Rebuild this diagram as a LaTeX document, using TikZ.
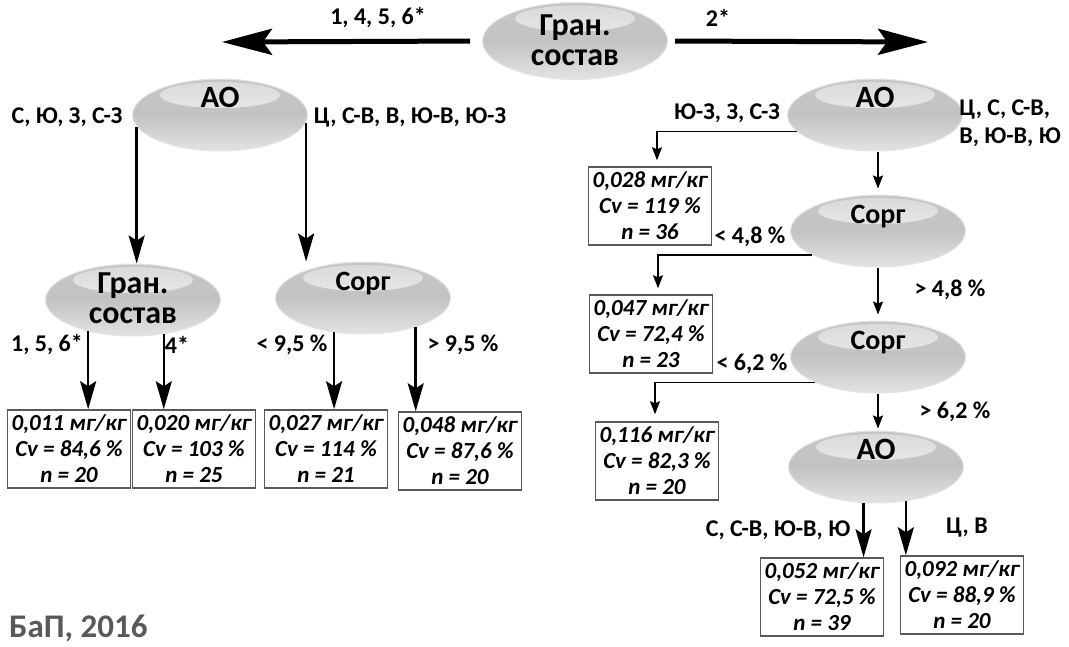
\documentclass[tikz,border=0pt]{standalone}
\usepackage{fontspec}
\setmainfont{Carlito}
\usetikzlibrary{shapes.geometric,arrows.meta,calc}

\tikzset{
  oval/.style={ellipse, minimum width=175pt, minimum height=72pt,
    draw=gray!20, line width=1pt,
    top color=gray!45, bottom color=gray!22, middle color=gray!47,
    path picture={\shade[top color=gray!30, bottom color=gray!4]
      ($(path picture bounding box.north)+(0,16)$) ellipse [x radius=60pt, y radius=13pt];}},
  ovaltext/.style={font=\bfseries\fontsize{28}{31}\selectfont, align=center, inner sep=0pt},
  aotext/.style={ovaltext, font=\bfseries\fontsize{31}{31}\selectfont},
  grantext/.style={ovaltext, font=\bfseries\fontsize{32}{30}\selectfont},
  res/.style={draw=gray!70!black, line width=1.5pt, fill=white,
    minimum width=123pt, minimum height=78pt, inner sep=1pt, align=center,
    font=\bfseries\itshape\fontsize{23}{26}\selectfont},
  lab/.style={font=\bfseries\fontsize{24}{28}\selectfont, inner sep=0pt},
  bigarr/.style={line width=5pt, -{Stealth[length=50pt, width=26pt, inset=9pt]}},
  arr/.style={line width=2.5pt, -{Stealth[length=28pt, width=16pt, inset=5pt]}},
  thinarr/.style={line width=1.5pt, -{Stealth[length=13pt, width=10pt, inset=2pt]}}
}

\begin{document}
\begin{tikzpicture}[x=1pt, y=-1pt]
\useasboundingbox (0,0) rectangle (1069,646);

% root
\node[oval, minimum width=185pt, minimum height=77pt,
  label={[grantext, yshift=1pt]center:Гран.\\состав}] (granT) at (575,41) {};
\coordinate (endL) at (222,42);
\coordinate (endR) at (928,42);
\draw[bigarr, shorten <=12pt] (granT.west) -- (endL);
\draw[bigarr, shorten <=7pt] (granT.east) -- (endR);
\node[lab] (lT1) at (378,18) {1, 4, 5, 6*};
\node[lab] (lT2) at (718,18) {2*};

% left branch
\node[oval, label={[aotext, yshift=18pt]center:АО}] (aoL) at (220,115) {};
\node[oval, label={[grantext, yshift=2pt]center:Гран.\\состав}] (granL) at (133,300) {};
\node[oval, label={[ovaltext, yshift=14pt]center:Сорг}] (sorgL) at (363,298) {};
\node[lab] (lA1) at (67,117) {С, Ю, З, С-З};
\node[lab] (lA2) at (410,117) {Ц, С-В, В, Ю-В, Ю-З};
\draw[arr] (aoL.188) -- (aoL.188 |- granL.north);
\draw[arr] (aoL.355) -- (aoL.355 |- sorgL.north);

\node[res] (b1) at (69,449) {0,011 мг/кг\\Cv = 84,6 \%\\n = 20};
\node[res] (b2) at (194,449) {0,020 мг/кг\\Cv = 103 \%\\n = 25};
\node[res] (b3) at (326,449) {0,027 мг/кг\\Cv = 114 \%\\n = 21};
\node[res] (b4) at (460,451) {0,048 мг/кг\\Cv = 87,6 \%\\n = 20};
\node[lab] (lG1) at (47,345) {1, 5, 6*};
\node[lab] (lG2) at (177,345) {4*};
\node[lab] (lS1) at (292,345) {< 9,5 \%};
\node[lab] (lS2) at (463,345) {> 9,5 \%};
\draw[arr] (granL.215) -- (granL.215 |- b1.north);
\draw[arr] (granL.312) -- (granL.312 |- b2.north);
\draw[arr] (sorgL.230) -- (sorgL.230 |- b3.north);
\draw[arr] (sorgL.331) -- (sorgL.331 |- b4.north);

% right branch
\node[oval, label={[aotext, yshift=18pt]center:АО}] (aoR) at (875,115) {};
\node[oval, label={[ovaltext, yshift=14pt]center:Сорг}] (sorg1) at (878,231) {};
\node[oval, label={[ovaltext, yshift=14pt]center:Сорг}] (sorg2) at (878,357) {};
\node[oval, label={[aotext, yshift=18pt]center:АО}] (ao3) at (876,467) {};

\node[res] (r1) at (650,206) {0,028 мг/кг\\Cv = 119 \%\\n = 36};
\node[res] (r2) at (651,334) {0,047 мг/кг\\Cv = 72,4 \%\\n = 23};
\node[res] (r3) at (657,461) {0,116 мг/кг\\Cv = 82,3 \%\\n = 20};
\node[res] (r5) at (822,597) {0,052 мг/кг\\Cv = 72,5 \%\\n = 39};
\node[res] (r6) at (962,595) {0,092 мг/кг\\Cv = 88,9 \%\\n = 20};

\node[lab] (lR1) at (727,113) {Ю-З, З, С-З};
\node[lab, align=left] (lR2) at (1010,123) {Ц, С, С-В,\\В, Ю-В, Ю};
\node[lab] (lC1) at (750,237) {< 4,8 \%};
\node[lab] (lC2) at (950,290) {> 4,8 \%};
\node[lab] (lD1) at (752,364) {< 6,2 \%};
\node[lab] (lD2) at (955,412) {> 6,2 \%};
\node[lab] (lE1) at (778,530) {С, С-В, Ю-В, Ю};
\node[lab] (lE2) at (967,528) {Ц, В};

\draw[thinarr] (aoR.192) -| ([xshift=7pt, yshift=6pt]r1.north);
\draw[thinarr, shorten >=6pt] (aoR.south -| sorg1.north) -- (sorg1.north);
\draw[thinarr] (sorg1.200) -| ([xshift=7pt, yshift=6pt]r2.north);
\draw[thinarr, shorten >=6pt] (sorg1) -- (sorg2);
\draw[thinarr] (sorg2.202) -| ([xshift=-2pt, yshift=7pt]r3.north);
\draw[thinarr, shorten >=2pt] (sorg2) -- (sorg2 |- ao3.north);
\draw[arr] (ao3.251) -- (ao3.251 |- r5.north);
\draw[arr] (ao3.311) -- (ao3.311 |- r6.north);

\node[anchor=base west, font=\bfseries\fontsize{33}{36}\selectfont, text=gray!70!black, inner sep=0pt]
  (src) at (9,637) {БаП, 2016};
\end{tikzpicture}
\end{document}
